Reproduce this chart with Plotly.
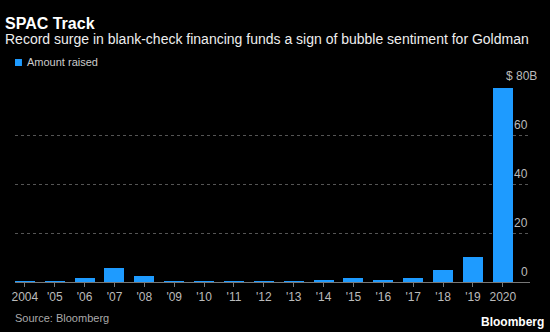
import plotly.graph_objects as go

years = list(range(2004, 2021))
amount_raised = [0.3, 0.3, 1.5, 5.9, 2.3, 0.1, 0.3, 0.3, 0.3, 0.3, 0.6, 1.8, 0.7, 1.5, 4.9, 10.2, 79.2]
x_tick_text = ["2004", "'05", "'06", "'07", "'08", "'09", "'10", "'11", "'12", "'13",
               "'14", "'15", "'16", "'17", "'18", "'19", "2020"]
y_ticks = [0, 20, 40, 60, 80]
y_tick_text = ["0", "20", "40", "60", "$ 80B"]

FONT = "Liberation Sans"
BLUE = "#1E9BFF"

fig = go.Figure()
fig.add_trace(go.Bar(
    x=years, y=amount_raised, width=0.67,
    marker=dict(color=BLUE, line=dict(width=0)),
    name="Amount raised", showlegend=False,
))

annotations = []
annotations.append(dict(text="<b>SPAC Track</b>", xref="paper", yref="paper",
                        x=-12/518, y=(282-23)/196, xanchor="left", yanchor="middle",
                        showarrow=False, font=dict(family=FONT, size=16, color="#ffffff")))
annotations.append(dict(text="Record surge in blank-check financing funds a sign of bubble sentiment for Goldman",
                        xref="paper", yref="paper", x=-12/518, y=(282-39)/196,
                        xanchor="left", yanchor="middle", showarrow=False,
                        font=dict(family=FONT, size=14, color="#eeeeee")))
annotations.append(dict(text="Amount raised", xref="paper", yref="paper", x=(22-12)/518,
                        y=(282-62)/196, xanchor="left", yanchor="middle", showarrow=False,
                        font=dict(family=FONT, size=11, color="#cccccc")))
annotations.append(dict(text="Source: Bloomberg", xref="paper", yref="paper", x=-2/518,
                        y=(282-318)/196, xanchor="left", yanchor="middle", showarrow=False,
                        font=dict(family=FONT, size=11, color="#aaaaaa")))
annotations.append(dict(text="<b>Bloomberg</b>", xref="paper", yref="paper", x=(546-12)/518,
                        y=(282-322)/196, xanchor="right", yanchor="middle", showarrow=False,
                        font=dict(family=FONT, size=12, color="#ffffff")))
for v, t in zip(y_ticks, y_tick_text):
    annotations.append(dict(text=t, xref="paper", yref="y", x=1, y=v,
                            xanchor="right", yanchor="middle", yshift=10.5,
                            xshift=9 if t.endswith("B") else 0, showarrow=False,
                            font=dict(family=FONT, size=12, color="#bbbbbb")))

shapes = [dict(type="rect", xref="paper", yref="paper",
               x0=0, x1=7/518, y0=(282-66)/196, y1=(282-59)/196,
               fillcolor=BLUE, line=dict(width=0))]

fig.update_layout(
    width=550, height=332,
    margin=dict(l=12, r=20, t=86, b=50),
    paper_bgcolor="#000000", plot_bgcolor="#000000",
    annotations=annotations, shapes=shapes,
    showlegend=False, bargap=0,
    xaxis=dict(range=[2003.67, 2020.91], tickvals=years, ticktext=x_tick_text,
               showgrid=False, zeroline=False, showline=True, linecolor="#777777",
               linewidth=1, ticks="outside", ticklen=4, tickcolor="#777777",
               tickfont=dict(family=FONT, size=12, color="#bbbbbb"), fixedrange=True),
    yaxis=dict(range=[0, 80], tickvals=y_ticks, showticklabels=False,
               showgrid=True, gridcolor="#555555", griddash="dot", gridwidth=1,
               zeroline=False, showline=False, fixedrange=True),
)

fig.write_html("out.html")
